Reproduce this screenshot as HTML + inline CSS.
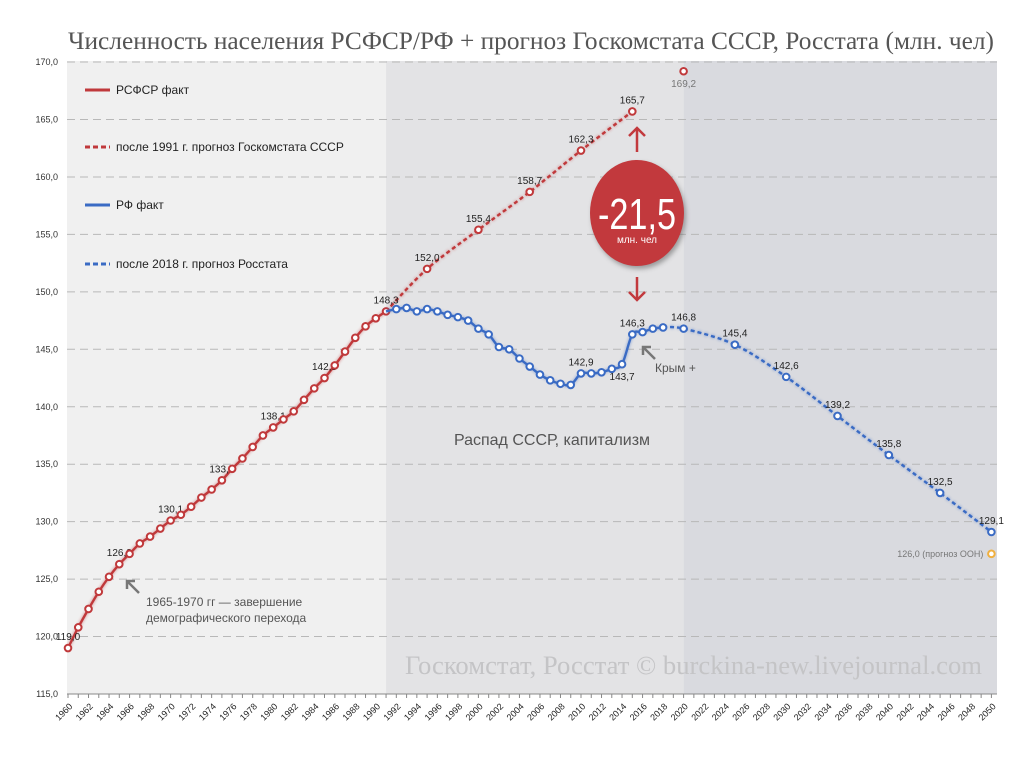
<!DOCTYPE html>
<html><head><meta charset="utf-8"><style>
body{margin:0;background:#fff;}
svg{display:block;font-family:"Liberation Sans","DejaVu Sans",sans-serif;}
</style></head><body>
<svg id="chart" width="1024" height="767" viewBox="0 0 1024 767">
<defs><filter id="glow" x="-50%" y="-50%" width="200%" height="200%"><feGaussianBlur stdDeviation="1.2"/></filter>
<filter id="sh" x="-30%" y="-30%" width="160%" height="160%"><feGaussianBlur stdDeviation="2.5"/></filter></defs>
<rect x="0" y="0" width="1024" height="767" fill="#fff"/>
<text x="68" y="49" font-family="'Liberation Serif','DejaVu Serif',serif" font-size="25" fill="#555" textLength="926" lengthAdjust="spacingAndGlyphs">Численность населения РСФСР/РФ + прогноз Госкомстата СССР, Росстата (млн. чел)</text>
<g id="bg"></g>
<g id="grid"></g>
<text x="405" y="674" font-family="'Liberation Serif','DejaVu Serif',serif" font-size="26" fill="#c4c4c6" textLength="577" lengthAdjust="spacingAndGlyphs">Госкомстат, Росстат © burckina-new.livejournal.com</text>
<text x="552" y="445" text-anchor="middle" font-size="16" fill="#555">Распад СССР, капитализм</text>
<g id="axes"></g>
<g id="series"></g>
<g font-size="12" fill="#222">
<g><line x1="85" y1="90" x2="110" y2="90" stroke="#c0393b" stroke-width="3"/><text x="116" y="94">РСФСР факт</text></g>
<g><line x1="85" y1="147" x2="110" y2="147" stroke="#c0393b" stroke-width="3" stroke-dasharray="5,3"/><text x="116" y="151">после 1991 г. прогноз Госкомстата СССР</text></g>
<g><line x1="85" y1="205" x2="110" y2="205" stroke="#3a6bc4" stroke-width="3"/><text x="116" y="209">РФ факт</text></g>
<g><line x1="85" y1="264" x2="110" y2="264" stroke="#3a6bc4" stroke-width="3" stroke-dasharray="5,3"/><text x="116" y="268">после 2018 г. прогноз Росстата</text></g>
</g>
<g>
<ellipse cx="639" cy="216" rx="47" ry="53" fill="#555" opacity="0.5" filter="url(#sh)"/>
<ellipse cx="637" cy="213" rx="47" ry="53" fill="#c2393d"/>
<text x="637" y="229" text-anchor="middle" font-size="44" fill="#fff" textLength="78" lengthAdjust="spacingAndGlyphs">-21,5</text>
<text x="637" y="243" text-anchor="middle" font-size="10" fill="#fff">млн. чел</text>
<g stroke="#c2393d" stroke-width="2.5" fill="none">
<line x1="637" y1="128" x2="637" y2="152"/><polyline points="629,136 637,128 645,136"/>
<line x1="637" y1="277" x2="637" y2="300"/><polyline points="629,292 637,300 645,292"/></g>
</g>
<g fill="#555" font-size="12">
<g stroke="#777" stroke-width="2.5" fill="none"><line x1="127" y1="581" x2="139" y2="593"/><polyline points="127,589 127,581 135,581"/>
<line x1="643" y1="347" x2="655" y2="359"/><polyline points="643,355 643,347 651,347"/></g>
<text x="146" y="606">1965-1970 гг — завершение</text>
<text x="146" y="622">демографического перехода</text>
<text x="655" y="372">Крым +</text>
</g>
</svg>
<script>
const rsfsrYears=[1960,1961,1962,1963,1964,1965,1966,1967,1968,1969,1970,1971,1972,1973,1974,1975,1976,1977,1978,1979,1980,1981,1982,1983,1984,1985,1986,1987,1988,1989,1990,1991];
const rsfsrValues=[119.0,120.8,122.4,123.9,125.2,126.3,127.2,128.1,128.7,129.4,130.1,130.6,131.3,132.1,132.8,133.6,134.6,135.5,136.5,137.5,138.2,138.9,139.6,140.6,141.6,142.5,143.6,144.8,146.0,147.0,147.7,148.3];
const ussrFcYears=[1991,1995,2000,2005,2010,2015];
const ussrFcValues=[148.3,152.0,155.4,158.7,162.3,165.7];
const ussrExtraYear=[2020];const ussrExtraValue=[169.2];
const rfYears=[1991,1992,1993,1994,1995,1996,1997,1998,1999,2000,2001,2002,2003,2004,2005,2006,2007,2008,2009,2010,2011,2012,2013,2014,2015,2016,2017,2018];
const rfValues=[148.3,148.5,148.6,148.3,148.5,148.3,148.0,147.8,147.5,146.8,146.3,145.2,145.0,144.2,143.5,142.8,142.3,142.0,141.9,142.9,142.9,143.0,143.3,143.7,146.3,146.5,146.8,146.9];
const rsFcYears=[2018,2020,2025,2030,2035,2040,2045,2050];
const rsFcValues=[146.9,146.8,145.4,142.6,139.2,135.8,132.5,129.1];
const unYear=[2050];const unValue=[127.2];
const yTicks=[115,120,125,130,135,140,145,150,155,160,165,170];
const rsfsrLabels={1960:"119,0",1965:"126,3",1970:"130,1",1975:"133,6",1980:"138,1",1985:"142,5",1991:"148,3"};
const rfLabels={2010:"142,9",2014:"143,7",2015:"146,3"};

const NS="http://www.w3.org/2000/svg";
const X0=68,XK=10.26,Y0=694,YK=11.49;
const xs=y=>X0+(y-1960)*XK, ys=v=>Y0-(v-115)*YK;
function mk(tag,attrs,parent){const e=document.createElementNS(NS,tag);for(const k in attrs)e.setAttribute(k,attrs[k]);document.getElementById(parent).appendChild(e);return e;}
let b=mk('rect',{x:67,y:61,width:xs(1991)-67,height:633,fill:'#f0f0f0'},'bg');

b=mk('rect',{x:xs(1991),y:61,width:xs(2020)-xs(1991),height:633,fill:'#e3e3e5'},'bg');

b=mk('rect',{x:xs(2020),y:61,width:997-xs(2020),height:633,fill:'#d9dadf'},'bg');

yTicks.forEach(v=>{
 if(v>115){const g=mk('line',{x1:67,x2:997,y1:ys(v),y2:ys(v),stroke:'#b8b8b8','stroke-dasharray':'8,5'},'grid');
 }
 const t=mk('text',{x:58,y:ys(v)+3,'text-anchor':'end','font-size':9,fill:'#333'},'axes');t.textContent=v.toFixed(1).replace('.',',');
 
});
let ax=mk('line',{x1:67,x2:997,y1:Y0,y2:Y0,stroke:'#888'},'axes');

for(let y=1960;y<=2050;y++){mk('line',{x1:xs(y),x2:xs(y),y1:Y0,y2:Y0+4,stroke:'#888'},'axes');
 if(y%2==0){const t=mk('text',{x:xs(y)+5,y:Y0+13,'text-anchor':'end','font-size':9,fill:'#222',transform:`rotate(-45 ${xs(y)+5} ${Y0+13})`},'axes');t.textContent=y;
 }}
function smooth(pts){let d=`M${pts[0][0]},${pts[0][1]}`;for(let i=0;i<pts.length-1;i++){const p0=pts[i-1]||pts[i],p1=pts[i],p2=pts[i+1],p3=pts[i+2]||p2;const t=0.16;
 d+=` C${p1[0]+(p2[0]-p0[0])*t},${p1[1]+(p2[1]-p0[1])*t} ${p2[0]-(p3[0]-p1[0])*t},${p2[1]-(p3[1]-p1[1])*t} ${p2[0]},${p2[1]}`;}return d;}
function series(name,yrs,vals,color,dash,markers,labels){
 const pts=yrs.map((y,i)=>[xs(y),ys(vals[i])]);
 if(pts.length>1){const gl=mk('path',{d:smooth(pts),fill:'none',stroke:color,'stroke-width':4,opacity:0.35,filter:'url(#glow)','stroke-dasharray':dash||'none'},'series');
 
 const p=mk('path',{d:smooth(pts),fill:'none',stroke:color,'stroke-width':2.4,'stroke-dasharray':dash||'none'},'series');
 }
 pts.forEach((q,i)=>{if(!markers(yrs[i]))return;
  const c=mk('circle',{cx:q[0],cy:q[1],r:3.3,fill:'#fff',stroke:color,'stroke-width':2},'series');
  
  if(labels&&labels[yrs[i]]){const t=mk('text',{x:q[0],y:q[1]-(labels.below&&labels.below.includes(yrs[i])?-16:8),'text-anchor':'middle','font-size':10,fill:labels.color||'#222'},'series');t.textContent=labels[yrs[i]];
  }
 });
}
const fmt=v=>v.toFixed(1).replace('.',',');
const ussrL={};ussrFcYears.forEach((y,i)=>{if(i>0)ussrL[y]=fmt(ussrFcValues[i]);});
const rsL={};rsFcYears.forEach((y,i)=>{if(i>0)rsL[y]=fmt(rsFcValues[i]);});
rfLabels.below=[2014];
series('ussr-forecast',ussrFcYears,ussrFcValues,'#c0393b','4,3',y=>y>1991,ussrL);
series('ussr-forecast-2020',ussrExtraYear,ussrExtraValue,'#c0393b',null,()=>true,{2020:fmt(ussrExtraValue[0]),below:[2020],color:'#777'});
series('rsfsr',rsfsrYears,rsfsrValues,'#c0393b',null,()=>true,rsfsrLabels);
series('rosstat-forecast',rsFcYears,rsFcValues,'#3a6bc4','4,3',y=>y>2018,rsL);
series('rf',rfYears,rfValues,'#3a6bc4',null,y=>y>1991,rfLabels);
const un=mk('circle',{cx:xs(unYear[0]),cy:ys(unValue[0]),r:3.3,fill:'#fff',stroke:'#f0b040','stroke-width':2},'series');

const ut=mk('text',{x:xs(unYear[0])-8,y:ys(unValue[0])+3,'text-anchor':'end','font-size':9,fill:'#777'},'series');ut.textContent='126,0 (прогноз ООН)';

</script>
</body></html>
